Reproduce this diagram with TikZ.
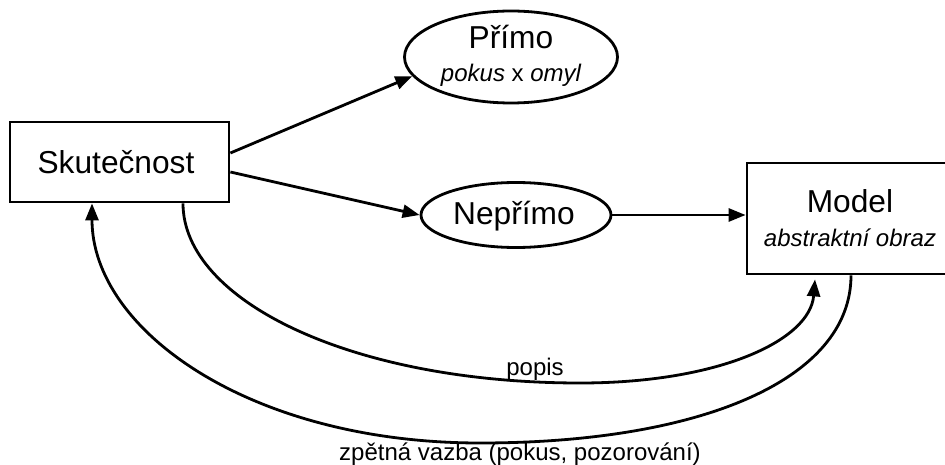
\documentclass[tikz,border=0pt]{standalone}
\usepackage{fontspec}
\setmainfont{Liberation Sans}
\usetikzlibrary{arrows.meta,shapes.geometric,calc}
\begin{document}
\begin{tikzpicture}[x=1pt,y=-1pt,
  line width=2.8pt,
  big/.style={font=\fontsize{31.7}{36}\selectfont, inner sep=0pt, anchor=base},
  small/.style={font=\fontsize{24}{28}\selectfont\itshape, inner sep=0pt, anchor=base},
  lbl/.style={font=\fontsize{24}{28}\selectfont, inner sep=0pt, anchor=base},
  box/.style={draw, rectangle, inner sep=0pt},
  oval/.style={draw, ellipse, inner sep=0pt},
  arr/.style={-{Triangle[length=17pt,width=13pt]}}
]
\useasboundingbox (0,0) rectangle (945,465);
% shapes
\node[box, minimum width=219pt, minimum height=80pt] (sk) at (119.5,162) {};
\node[big] (skt) at (116,174) {Skutečnost};
\node[oval, minimum width=213pt, minimum height=92pt] (pr) at (511,57) {};
\node[big] (prt) at (511,49) {Přímo};
\node[small] (prs) at (511,82) {pokus \upshape x \itshape omyl};
\node[oval, minimum width=190pt, minimum height=65pt] (np) at (516,215) {};
\node[big] (npt) at (514,225) {Nepřímo};
\node[box, minimum width=206pt, minimum height=111pt] (md) at (850,218.5) {};
\node[big] (mdt) at (850,213) {Model};
\node[small] (mds) at (850,247) {abstraktní obraz};
% connectors
\draw[arr] ([yshift=9pt]sk.east) -- (pr.191.5);
\draw[arr] ([yshift=-10pt]sk.east) -- (np.west);
\draw[arr] (np.east) -- (np.east -| md.west);
\draw[arr] ([xshift=63.5pt]sk.south) .. controls (183,300) and (350,383) .. (580,383)
  .. controls (720,383) and (810,340) .. ([xshift=-35pt,yshift=-4pt]md.south);
\draw[arr] ([xshift=1pt]md.south) .. controls (851,380) and (700,443) .. (480,443)
  .. controls (250,443) and (92,330) .. ([xshift=-27.5pt]sk.south);
% labels
\node[lbl] (lpopis) at (535,375) {popis};
\node[lbl] (lvazba) at (520,460) {zpětná vazba (pokus, pozorování)};
\end{tikzpicture}
\end{document}
